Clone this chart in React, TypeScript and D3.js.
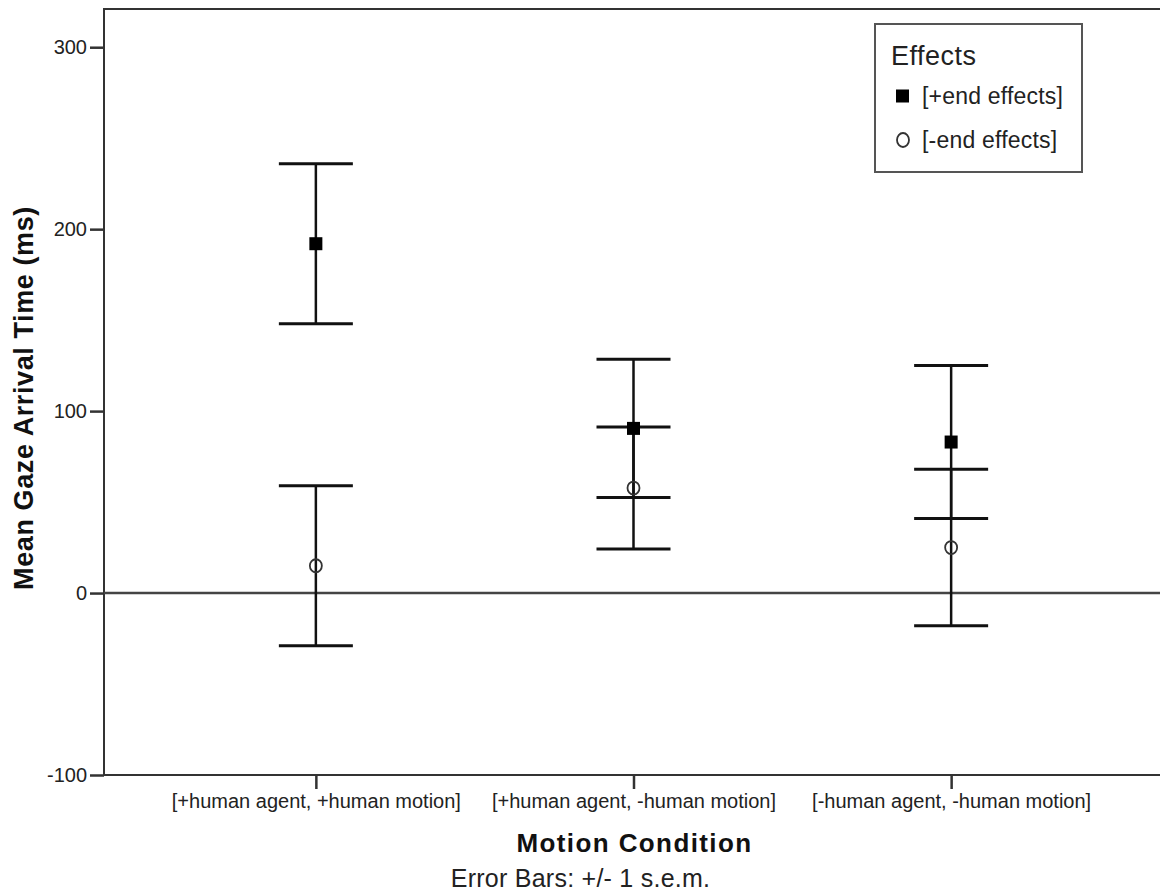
import React, { useRef, useEffect } from 'react';
import * as d3 from 'd3';

// values
const categories = [
  '[+human agent, +human motion]',
  '[+human agent, -human motion]',
  '[-human agent, -human motion]',
];
const endMeans = [192, 90.5, 83];
const endSem = [44, 38, 42];
const noEndMeans = [15, 57.7, 25];
const noEndSem = [44, 33.5, 43];
const yTicks = [-100, 0, 100, 200, 300];
const seriesNames = ['[+end effects]', '[-end effects]'];

const W = 1160;
const H = 893;
const FONT = '"Liberation Sans", Arial, sans-serif';

const App = () => {
  const ref = useRef<SVGSVGElement | null>(null);

  useEffect(() => {
    if (!ref.current) return;
    const svg = d3.select(ref.current);
    svg.selectAll('*').remove();

    const margin = { top: 9, left: 104, bottom: 118 };
    const plotRight = 1163;
    const plotBottom = H - margin.bottom;

    const x = d3.scalePoint<string>()
      .domain(categories)
      .range([margin.left, plotRight])
      .padding(0.667);

    const y = d3.scaleLinear()
      .domain([-100, 321])
      .range([plotBottom, margin.top]);

    // frame (left + top)
    svg.append('path')
      .attr('d', `M${plotRight},${margin.top}H${margin.left}V${plotBottom}`)
      .attr('fill', 'none')
      .attr('stroke', '#333')
      .attr('stroke-width', 2);

    // y axis
    const yAxis = svg.append('g')
      .attr('transform', `translate(${margin.left},0)`)
      .call(d3.axisLeft(y).tickValues(yTicks).tickSize(14).tickPadding(3).tickFormat(d => String(d)));
    yAxis.select('.domain').remove();
    yAxis.selectAll('line').attr('stroke', '#333').attr('stroke-width', 2.5);
    yAxis.selectAll('text')
      .attr('font-family', FONT)
      .attr('font-size', 20)
      .attr('fill', '#222');

    // x axis
    const xAxis = svg.append('g')
      .attr('transform', `translate(0,${plotBottom})`)
      .call(d3.axisBottom(x).tickSize(14).tickPadding(5).tickSizeOuter(0));
    xAxis.select('.domain')
      .attr('d', `M${margin.left},0H${plotRight}`)
      .attr('stroke', '#333')
      .attr('stroke-width', 2);
    xAxis.selectAll('line').attr('stroke', '#333').attr('stroke-width', 2.5);
    xAxis.selectAll('text')
      .attr('font-family', FONT)
      .attr('font-size', 20)
      .attr('fill', '#222');

    // zero reference line
    svg.append('line')
      .attr('x1', margin.left)
      .attr('x2', plotRight)
      .attr('y1', y(0))
      .attr('y2', y(0))
      .attr('stroke', '#444')
      .attr('stroke-width', 2.5);

    const capHalf = 37;
    const series = [
      { means: endMeans, sem: endSem, filled: true },
      { means: noEndMeans, sem: noEndSem, filled: false },
    ];

    // error bars
    series.forEach(s => {
      const g = svg.append('g');
      categories.forEach((c, i) => {
        const cx = x(c) as number;
        const hi = y(s.means[i] + s.sem[i]);
        const lo = y(s.means[i] - s.sem[i]);
        g.append('line')
          .attr('x1', cx).attr('x2', cx)
          .attr('y1', hi).attr('y2', lo)
          .attr('stroke', '#111').attr('stroke-width', 2.5);
        [hi, lo].forEach(yy => {
          g.append('line')
            .attr('x1', cx - capHalf).attr('x2', cx + capHalf)
            .attr('y1', yy).attr('y2', yy)
            .attr('stroke', '#111').attr('stroke-width', 3);
        });
      });
    });

    // markers
    series.forEach(s => {
      categories.forEach((c, i) => {
        const cx = x(c) as number;
        const cy = y(s.means[i]);
        if (s.filled) {
          svg.append('rect')
            .attr('x', cx - 6.5).attr('y', cy - 6.5)
            .attr('width', 13).attr('height', 13)
            .attr('fill', '#000');
        } else {
          svg.append('ellipse')
            .attr('cx', cx).attr('cy', cy)
            .attr('rx', 6).attr('ry', 6.5)
            .attr('fill', 'none')
            .attr('stroke', '#333').attr('stroke-width', 1.8);
        }
      });
    });

    // axis titles
    svg.append('text')
      .attr('transform', `translate(33,${(margin.top + plotBottom) / 2 + 6}) rotate(-90)`)
      .attr('text-anchor', 'middle')
      .attr('font-family', FONT)
      .attr('font-weight', 'bold')
      .attr('font-size', 27)
      .attr('letter-spacing', 0.6)
      .attr('fill', '#111')
      .text('Mean Gaze Arrival Time (ms)');

    svg.append('text')
      .attr('x', (margin.left + plotRight) / 2 + 1)
      .attr('y', 852)
      .attr('text-anchor', 'middle')
      .attr('font-family', FONT)
      .attr('font-weight', 'bold')
      .attr('font-size', 26)
      .attr('letter-spacing', 1.4)
      .attr('fill', '#111')
      .text('Motion Condition');

    svg.append('text')
      .attr('x', (margin.left + plotRight) / 2 - 53)
      .attr('y', 887)
      .attr('text-anchor', 'middle')
      .attr('font-family', FONT)
      .attr('font-size', 25)
      .attr('letter-spacing', 0.25)
      .attr('fill', '#222')
      .text('Error Bars: +/- 1 s.e.m.');

    // legend
    const lg = svg.append('g').attr('transform', 'translate(875,24)');
    lg.append('rect')
      .attr('width', 207).attr('height', 148)
      .attr('fill', '#fff')
      .attr('stroke', '#555').attr('stroke-width', 2);
    lg.append('text')
      .attr('x', 16).attr('y', 41)
      .attr('font-family', FONT)
      .attr('font-size', 27)
      .attr('letter-spacing', 0.5)
      .attr('fill', '#222')
      .text('Effects');
    seriesNames.forEach((name, i) => {
      const ry = 72 + i * 44;
      if (i === 0) {
        lg.append('rect')
          .attr('x', 21).attr('y', ry - 6.5)
          .attr('width', 13).attr('height', 13)
          .attr('fill', '#000');
      } else {
        lg.append('ellipse')
          .attr('cx', 28).attr('cy', ry)
          .attr('rx', 6).attr('ry', 7)
          .attr('fill', 'none')
          .attr('stroke', '#333').attr('stroke-width', 1.8);
      }
      lg.append('text')
        .attr('x', 47).attr('y', ry + 8)
        .attr('font-family', FONT)
        .attr('font-size', 23)
        .attr('letter-spacing', 0.2)
        .attr('fill', '#222')
        .text(name);
    });
  }, []);

  return (
    <svg
      ref={ref}
      width={W}
      height={H}
      style={{ position: 'absolute', left: 0, top: 0, background: '#fff' }}
    />
  );
};

export default App;
